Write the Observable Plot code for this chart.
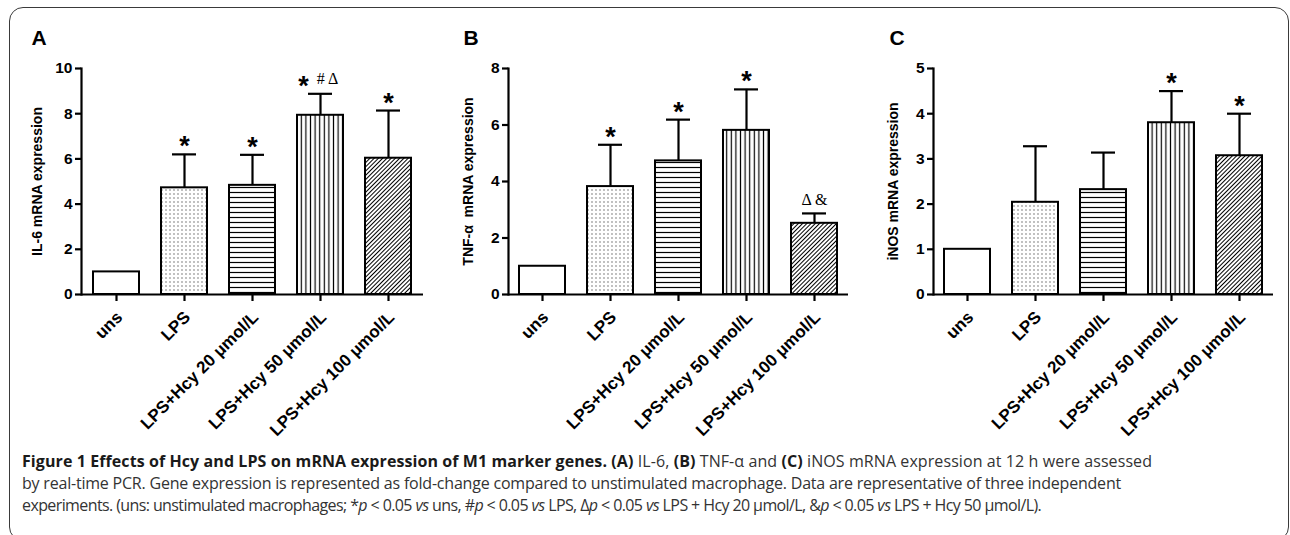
<!DOCTYPE html>
<html><head><meta charset="utf-8">
<script src="https://cdn.jsdelivr.net/npm/d3@7"></script>
<script src="https://cdn.jsdelivr.net/npm/@observablehq/plot@0.6"></script>
<style>
body{margin:0;background:#fff;}
#page{position:relative;width:1290px;height:535px;overflow:hidden;background:#fff;}
#frame{position:absolute;left:9px;top:7px;width:1280px;height:534px;border:1.5px solid #3a3a3a;border-radius:14px;box-sizing:border-box;}
.panel{position:absolute;top:0;}
#caption{position:absolute;left:22px;top:450px;font-family:'Open Sans',Lato,sans-serif;font-size:16px;line-height:22px;color:#333;white-space:nowrap;}
#caption div{display:block;width:max-content;}
#caption b{color:#1a1a1a;}
</style></head>
<body><div id="page"><div id="frame"></div>
<svg width="0" height="0" style="position:absolute;left:0;top:0">
<defs>
<pattern id="patDots" patternUnits="userSpaceOnUse" width="4" height="4"><rect width="4" height="4" fill="#fff"/><circle cx="2" cy="2" r="0.7" fill="#555"/></pattern>
<pattern id="patH" patternUnits="userSpaceOnUse" width="5" height="5"><rect width="5" height="5" fill="#fff"/><line x1="0" x2="5" y1="2.5" y2="2.5" stroke="#000" stroke-width="1.2"/></pattern>
<pattern id="patV" patternUnits="userSpaceOnUse" width="4.6" height="4.6"><rect width="4.6" height="4.6" fill="#fff"/><line y1="0" y2="4.6" x1="2.3" x2="2.3" stroke="#000" stroke-width="1.2"/></pattern>
<pattern id="patD" patternUnits="userSpaceOnUse" width="3" height="3" patternTransform="rotate(45)"><rect width="3" height="3" fill="#fff"/><line y1="0" y2="3" x1="1.5" x2="1.5" stroke="#000" stroke-width="1"/></pattern>
</defs></svg>
<div id="pA" class="panel" style="left:0px"></div>
<div id="pB" class="panel" style="left:430px"></div>
<div id="pC" class="panel" style="left:860px"></div>
<div id="caption">
<div data-w="1130"><b>Figure 1 Effects of Hcy and LPS on mRNA expression of M1 marker genes. (A)</b> IL-6, <b>(B)</b> TNF-α and <b>(C)</b> iNOS mRNA expression at 12 h were assessed</div>
<div data-w="1099">by real-time PCR. Gene expression is represented as fold-change compared to unstimulated macrophage. Data are representative of three independent</div>
<div data-w="1019">experiments. (uns: unstimulated macrophages; *<i>p</i> &lt; 0.05 <i>vs</i> uns, #<i>p</i> &lt; 0.05 <i>vs</i> LPS, Δ<i>p</i> &lt; 0.05 <i>vs</i> LPS + Hcy 20 μmol/L, &amp;<i>p</i> &lt; 0.05 <i>vs</i> LPS + Hcy 50 μmol/L).</div>
</div>
</div>
<script>
// ---- data ----
const categories = ["uns", "LPS", "LPS+Hcy 20 μmol/L", "LPS+Hcy 50 μmol/L", "LPS+Hcy 100 μmol/L"];

const il6Mean  = [1.0, 4.72, 4.83, 7.93, 6.03];
const il6Upper = [null, 6.20, 6.18, 8.88, 8.14];
const il6Notes = ["", "*", "*", "* # Δ", "*"];
const il6Ticks = [0, 2, 4, 6, 8, 10];

const tnfMean  = [1.0, 3.82, 4.73, 5.81, 2.52];
const tnfUpper = [null, 5.30, 6.19, 7.26, 2.87];
const tnfNotes = ["", "*", "*", "*", "Δ &"];
const tnfTicks = [0, 2, 4, 6, 8];

const inosMean  = [1.0, 2.04, 2.32, 3.80, 3.07];
const inosUpper = [null, 3.28, 3.14, 4.50, 4.00];
const inosNotes = ["", "", "", "*", "*"];
const inosTicks = [0, 1, 2, 3, 4, 5];

// ---- styles ----
const barFills = ["#fff", "url(#patDots)", "url(#patH)", "url(#patV)", "url(#patD)"];
const sans = "Arial, 'Liberation Sans', sans-serif";
const serif = "'Times New Roman', 'Liberation Serif', serif";

const panels = [
  {el: "pA", letter: "A", title: "IL-6 mRNA expression", mean: il6Mean, upper: il6Upper, notes: il6Notes, ticks: il6Ticks,
   marginLeft: 81, marginRight: 7, titleDx: -44, letterDx: -50},
  {el: "pB", letter: "B", title: "TNF-α  mRNA expression", mean: tnfMean, upper: tnfUpper, notes: tnfNotes, ticks: tnfTicks,
   marginLeft: 78, marginRight: 12, titleDx: -40, letterDx: -45},
  {el: "pC", letter: "C", title: "iNOS mRNA expression", mean: inosMean, upper: inosUpper, notes: inosNotes, ticks: inosTicks,
   marginLeft: 73, marginRight: 17, titleDx: -40, letterDx: -44}
];

for (const p of panels) {
  const rows = categories.map((c, i) => {
    const note = p.notes[i];
    const star = note.startsWith("*");
    const rest = star ? note.slice(1).trim() : note;
    return {cat: c, value: p.mean[i], upper: p.upper[i], fill: barFills[i], star, rest};
  });
  const withErr = rows.filter(r => r.upper != null);
  const top = r => r.upper ?? r.value;
  const plot = Plot.plot({
    width: 430, height: 450,
    marginLeft: p.marginLeft, marginRight: p.marginRight, marginTop: 68, marginBottom: 156,
    x: {domain: categories, paddingInner: 0.33, paddingOuter: 0.165, axis: null},
    y: {domain: [0, d3.max(p.ticks)], axis: null},
    color: {type: "identity"},
    style: {fontFamily: sans, color: "#000", background: "transparent", overflow: "visible"},
    marks: [
      Plot.barY(rows, {x: "cat", y: "value", fill: "fill", stroke: "#000", strokeWidth: 2}),
      Plot.ruleX(withErr, {x: "cat", y1: "value", y2: "upper", stroke: "#000", strokeWidth: 2.2}),
      Plot.tickY(withErr, {x: "cat", y: "upper", stroke: "#000", strokeWidth: 2.2, insetLeft: 11, insetRight: 11}),
      Plot.ruleY([0], {stroke: "#000", strokeWidth: 2.2}),
      Plot.frame({anchor: "left", stroke: "#000", strokeWidth: 2.2}),
      Plot.axisY({ticks: p.ticks, tickSize: 6, tickPadding: 3, strokeWidth: 2.2, label: null,
                  fontSize: 15.5, fontWeight: "bold", fontFamily: sans, tickFormat: d => String(d)}),
      Plot.axisX({tickSize: 7, strokeWidth: 2.2, label: null, tickFormat: () => ""}),
      Plot.text(categories, {x: d => d, text: d => d, frameAnchor: "bottom", rotate: -45, textAnchor: "end",
                             lineAnchor: "middle", dx: 3, dy: 20, fontSize: 17, fontWeight: "bold", fontFamily: sans}),
      Plot.text([p.title], {text: d => d, frameAnchor: "left", rotate: -90, dx: p.titleDx,
                            textAnchor: "middle", lineAnchor: "middle", fontSize: 14, fontWeight: "bold", fontFamily: sans}),
      Plot.text([p.letter], {text: d => d, frameAnchor: "top-left", dx: p.letterDx, dy: -38,
                             textAnchor: "start", lineAnchor: "top", fontSize: 21, fontWeight: "bold", fontFamily: sans}),
      // significance marks
      Plot.text(rows.filter(r => r.star && !r.rest), {x: "cat", y: top, text: () => "*", lineAnchor: "bottom",
                             dy: 1, fontSize: 27, fontWeight: "bold", fontFamily: sans}),
      Plot.text(rows.filter(r => r.star && r.rest), {x: "cat", y: top, text: () => "*", lineAnchor: "bottom",
                             dx: -17, dy: 1, fontSize: 27, fontWeight: "bold", fontFamily: sans}),
      Plot.text(rows.filter(r => r.star && r.rest), {x: "cat", y: top, text: "rest", lineAnchor: "bottom",
                             dx: 7, dy: -10, fontSize: 16, fontFamily: serif}),
      Plot.text(rows.filter(r => !r.star && r.rest), {x: "cat", y: top, text: "rest", lineAnchor: "bottom",
                             dy: -8, fontSize: 16, fontFamily: serif})
    ]
  });
  document.getElementById(p.el).appendChild(plot);
}

// fit caption lines to the reference line lengths
for (const line of document.querySelectorAll("#caption div")) {
  const target = +line.dataset.w;
  const w = line.getBoundingClientRect().width;
  const n = line.textContent.length;
  line.style.letterSpacing = ((target - w) / n) + "px";
}
</script>
</body></html>
